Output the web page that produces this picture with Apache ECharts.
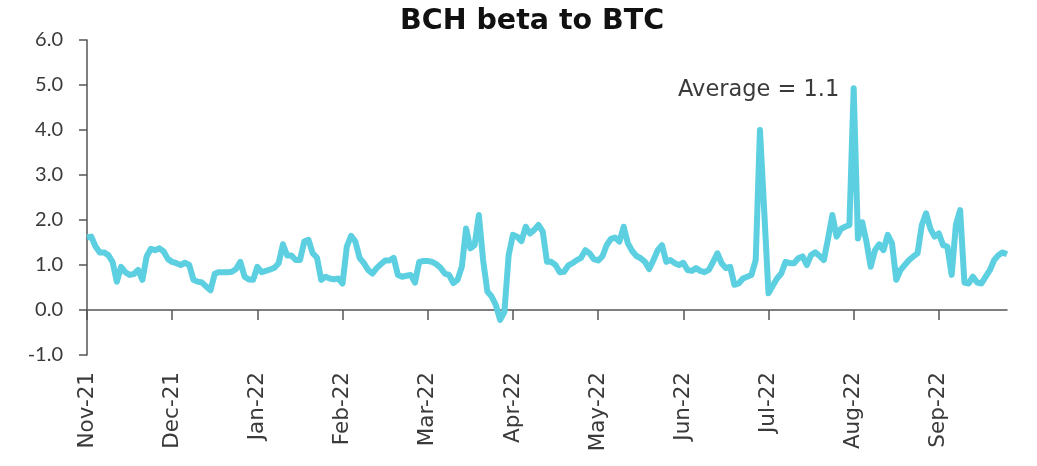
<!DOCTYPE html>
<html>
<head>
<meta charset="utf-8">
<title>BCH beta to BTC</title>
<script src="https://cdn.jsdelivr.net/npm/echarts@6/dist/echarts.min.js"></script>
<style>
    html, body { margin: 0; padding: 0; background: #fff; }
    #chart { width: 1037px; height: 466px; }
</style>
</head>
<body>
<div id="chart"></div>
<script>
// month tick labels, one tick every 20 points
const monthLabels = ['Nov-21', 'Dec-21', 'Jan-22', 'Feb-22', 'Mar-22', 'Apr-22', 'May-22', 'Jun-22', 'Jul-22', 'Aug-22', 'Sep-22'];
const pointsPerMonth = 20;

// beta values, month by month
const nov21 = [1.61, 1.63, 1.41, 1.28, 1.28, 1.22, 1.07, 0.63, 0.96, 0.84, 0.78, 0.80, 0.89, 0.67, 1.19, 1.36, 1.33, 1.37, 1.30, 1.13];
const dec21 = [1.07, 1.04, 1.00, 1.05, 1.00, 0.67, 0.63, 0.61, 0.52, 0.44, 0.81, 0.84, 0.84, 0.84, 0.85, 0.91, 1.07, 0.74, 0.68, 0.67];
const jan22 = [0.96, 0.84, 0.87, 0.90, 0.94, 1.04, 1.46, 1.21, 1.21, 1.11, 1.11, 1.52, 1.56, 1.26, 1.16, 0.67, 0.74, 0.70, 0.68, 0.70];
const feb22 = [0.59, 1.41, 1.65, 1.52, 1.16, 1.04, 0.89, 0.81, 0.93, 1.02, 1.10, 1.10, 1.16, 0.78, 0.74, 0.76, 0.78, 0.61, 1.07, 1.09];
const mar22 = [1.09, 1.07, 1.02, 0.94, 0.81, 0.78, 0.60, 0.67, 0.96, 1.81, 1.37, 1.44, 2.11, 1.11, 0.41, 0.30, 0.11, -0.22, -0.04, 1.22];
const apr22 = [1.67, 1.63, 1.53, 1.85, 1.70, 1.78, 1.89, 1.74, 1.07, 1.07, 1.00, 0.84, 0.85, 0.99, 1.04, 1.11, 1.16, 1.33, 1.26, 1.13];
const may22 = [1.10, 1.19, 1.44, 1.58, 1.61, 1.52, 1.85, 1.48, 1.31, 1.20, 1.15, 1.07, 0.91, 1.11, 1.33, 1.44, 1.07, 1.11, 1.04, 1.00];
const jun22 = [1.05, 0.89, 0.87, 0.93, 0.87, 0.84, 0.89, 1.07, 1.26, 1.04, 0.93, 0.96, 0.56, 0.59, 0.70, 0.74, 0.78, 1.11, 4.00, 2.20];
const jul22 = [0.37, 0.54, 0.70, 0.81, 1.07, 1.04, 1.04, 1.15, 1.19, 1.00, 1.22, 1.28, 1.20, 1.11, 1.59, 2.11, 1.63, 1.80, 1.85, 1.89];
const aug22 = [4.93, 1.59, 1.95, 1.52, 0.96, 1.33, 1.46, 1.33, 1.67, 1.48, 0.67, 0.89, 1.00, 1.11, 1.19, 1.26, 1.89, 2.15, 1.81, 1.63];
const sep22 = [1.70, 1.44, 1.41, 0.78, 1.89, 2.22, 0.61, 0.59, 0.74, 0.61, 0.59, 0.74, 0.89, 1.11, 1.22, 1.28, 1.24];

const yTicks = [-1, 0, 1, 2, 3, 4, 5, 6];
const averageText = 'Average = 1.1';

const betaValues = [].concat(nov21, dec21, jan22, feb22, mar22, apr22, may22, jun22, jul22, aug22, sep22);
// category names: month label on the first point of each month, blank otherwise
const categories = betaValues.map((v, i) => {
    return i % pointsPerMonth === 0 ? monthLabels[i / pointsPerMonth] : '';
});

const textColor = '#3a3a3a';
const fontFamily = 'Lato, "Noto Sans", sans-serif';

let chart = echarts.init(document.getElementById('chart'));
let option = {
    animation: false,
    title: {
        text: 'BCH beta to BTC',
        left: 395,
        top: 2,
        textStyle: {
            fontFamily: '"DejaVu Sans", sans-serif',
            fontSize: 28.5,
            fontWeight: 'bold',
            color: '#111'
        }
    },
    grid: {
        left: 87,
        right: 30,
        top: 40,
        bottom: 111,
        outerBoundsMode: 'none'
    },
    xAxis: {
        type: 'category',
        boundaryGap: false,
        data: categories,
        axisLine: {
            onZero: true,
            lineStyle: { color: '#555', width: 1.5 }
        },
        axisTick: {
            length: 10,
            interval: (index) => index % pointsPerMonth === 0,
            lineStyle: { color: '#555', width: 1.5 }
        },
        axisLabel: {
            rotate: 90,
            margin: 17,
            interval: (index) => index % pointsPerMonth === 0,
            color: textColor,
            fontFamily: '"DejaVu Sans", sans-serif',
            fontSize: 21.5
        },
        splitLine: { show: false }
    },
    yAxis: {
        type: 'value',
        min: yTicks[0],
        max: yTicks[yTicks.length - 1],
        interval: 1,
        axisLine: {
            show: true,
            lineStyle: { color: '#555', width: 1.5 }
        },
        axisTick: {
            show: true,
            length: 8,
            lineStyle: { color: '#555', width: 1.5 }
        },
        axisLabel: {
            margin: 24,
            color: textColor,
            fontFamily: fontFamily,
            fontSize: 20,
            formatter: (v) => v.toFixed(1)
        },
        splitLine: { show: false }
    },
    graphic: [{
        type: 'text',
        left: 678,
        top: 79,
        style: {
            text: averageText,
            fill: textColor,
            font: '22.5px "DejaVu Sans", sans-serif'
        }
    }],
    series: [{
        name: 'BCH beta',
        type: 'line',
        data: betaValues,
        symbol: 'none',
        lineStyle: {
            color: '#5ccfe0',
            width: 6,
            join: 'round'
        }
    }]
};
chart.setOption(option);
</script>
</body>
</html>
